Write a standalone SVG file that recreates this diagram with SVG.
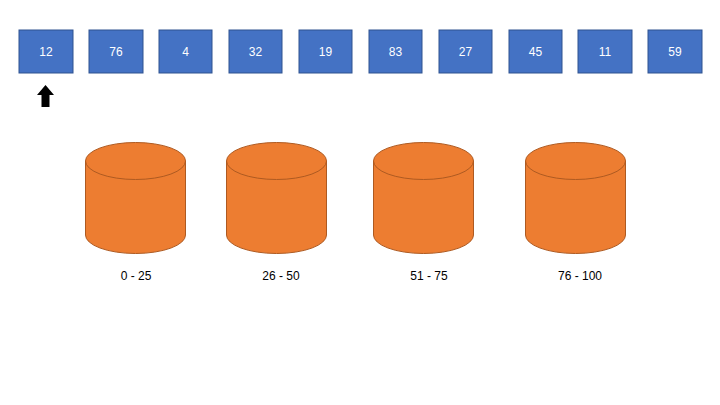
<svg xmlns="http://www.w3.org/2000/svg" width="720" height="405" viewBox="0 0 720 405">
<defs>
<style>
.box rect{fill:#4472C4;stroke:#2F528F;stroke-width:1}
.box text{fill:#fff;font-family:"Liberation Sans","DejaVu Sans",sans-serif;font-size:12px;text-anchor:middle;dominant-baseline:central}
.cy{fill:#ED7D31;stroke:#AE5A21;stroke-width:1}
.lbl{fill:#000;stroke:none;font-family:"Liberation Sans","DejaVu Sans",sans-serif;font-size:12px;text-anchor:middle}
</style>
<g id="cylshape">
<path d="M0,18.5 A50,18.5 0 0 1 100,18.5 V92.5 A50,18.5 0 0 1 0,92.5 Z"/>
<path d="M0,18.5 A50,18.5 0 0 0 100,18.5" fill="none"/>
</g>
</defs>
<rect width="720" height="405" fill="#fff"/>
<g id="b1" class="box"><rect x="19" y="30" width="54" height="43"/><text x="46" y="52">12</text></g>
<g id="b2" class="box"><rect x="89" y="30" width="54" height="43"/><text x="116" y="52">76</text></g>
<g id="b3" class="box"><rect x="159" y="30" width="53" height="43"/><text x="185.5" y="52">4</text></g>
<g id="b4" class="box"><rect x="229" y="30" width="53" height="43"/><text x="255.5" y="52">32</text></g>
<g id="b5" class="box"><rect x="299" y="30" width="53" height="43"/><text x="325.5" y="52">19</text></g>
<g id="b6" class="box"><rect x="369" y="30" width="53" height="43"/><text x="395.5" y="52">83</text></g>
<g id="b7" class="box"><rect x="439" y="30" width="53" height="43"/><text x="465.5" y="52">27</text></g>
<g id="b8" class="box"><rect x="509" y="30" width="53" height="43"/><text x="535.5" y="52">45</text></g>
<g id="b9" class="box"><rect x="578" y="30" width="54" height="43"/><text x="605" y="52">11</text></g>
<g id="b10" class="box"><rect x="648" y="30" width="54" height="43"/><text x="675" y="52">59</text></g>
<g id="pointer"><polygon points="45.5,85 54,95 49.5,95 49.5,107 41.5,107 41.5,95 37,95" fill="#000"/></g>
<g id="c1"><use class="cy" href="#cylshape" x="85.5" y="142.5"/><text class="lbl" x="136" y="280">0 - 25</text></g>
<g id="c2"><use class="cy" href="#cylshape" x="226.5" y="142.5"/><text class="lbl" x="281" y="280">26 - 50</text></g>
<g id="c3"><use class="cy" href="#cylshape" x="373.5" y="142.5"/><text class="lbl" x="429" y="280">51 - 75</text></g>
<g id="c4"><use class="cy" href="#cylshape" x="525.5" y="142.5"/><text class="lbl" x="580" y="280">76 - 100</text></g>
<g id="connectors"></g>
</svg>
